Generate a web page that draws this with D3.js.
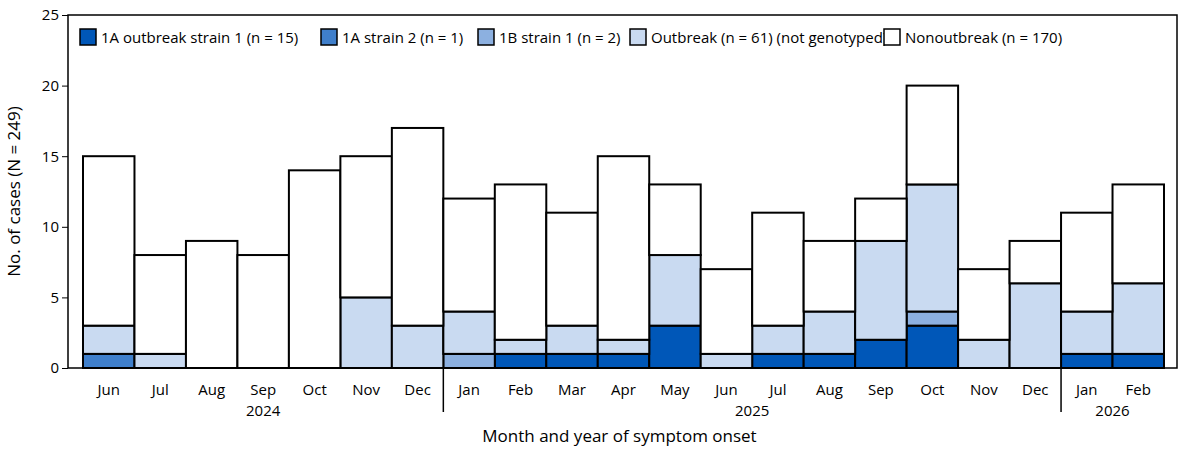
<!DOCTYPE html><html><head><meta charset="utf-8"><script src="https://cdn.jsdelivr.net/npm/d3@7"></script>
<style>body{margin:0;background:#fff}text{font-family:"Open Sans","Liberation Sans",sans-serif}</style></head><body><svg id="c" width="1200" height="463"></svg><script>
const months=["Jun","Jul","Aug","Sep","Oct","Nov","Dec","Jan","Feb","Mar","Apr","May","Jun","Jul","Aug","Sep","Oct","Nov","Dec","Jan","Feb"];
const years=[{label:"2024",from:0,to:6},{label:"2025",from:7,to:18},{label:"2026",from:19,to:20}];
const strain1A1=[0,0,0,0,0,0,0,0,1,1,1,3,0,1,1,2,3,0,0,1,1];
const strain1A2=[1,0,0,0,0,0,0,0,0,0,0,0,0,0,0,0,0,0,0,0,0];
const strain1B1=[0,0,0,0,0,0,0,1,0,0,0,0,0,0,0,0,1,0,0,0,0];
const outbreak=[2,1,0,0,0,5,3,3,1,2,1,5,1,2,3,7,9,2,6,3,5];
const nonoutbreak=[12,7,9,8,14,10,14,8,11,8,13,5,6,8,5,3,7,5,3,7,7];
const seriesNames=["1A outbreak strain 1 (n = 15)","1A strain 2 (n = 1)","1B strain 1 (n = 2)","Outbreak (n = 61) (not genotyped)","Nonoutbreak (n = 170)"];
const colors=["#0057b8","#3f7fcb","#8cb0e0","#c9daf1","#ffffff"];
const yTicks=[0,5,10,15,20,25];
const series=[strain1A1,strain1A2,strain1B1,outbreak,nonoutbreak];
const svg=d3.select("#c");
const L=68,R=1177,T=15,B=368;
const x=d3.scaleBand().domain(d3.range(months.length)).range([83,1164]).padding(0);
const y=d3.scaleLinear().domain([0,25]).range([B,T]);
const data=months.map((m,i)=>{const o={i};series.forEach((s,k)=>o["s"+k]=s[i]);return o;});
const stack=d3.stack().keys(series.map((s,k)=>"s"+k))(data);
stack.forEach((layer,k)=>{svg.append("g").selectAll("rect").data(layer.filter(d=>d[1]>d[0])).join("rect")
 .attr("x",d=>x(d.data.i)).attr("width",x.bandwidth()).attr("y",d=>y(d[1])).attr("height",d=>y(d[0])-y(d[1]))
 .attr("fill",colors[k]).attr("stroke","#000").attr("stroke-width",2);});
svg.append("rect").attr("x",L).attr("y",T).attr("width",R-L).attr("height",B-T).attr("fill","none").attr("stroke","#000").attr("stroke-width",1.5);
const ya=svg.append("g").attr("transform",`translate(${L},0)`).call(d3.axisLeft(y).tickValues(yTicks).tickSize(6));
ya.select(".domain").remove();ya.selectAll("text").attr("font-size",15).attr("fill","#000");
svg.append("g").selectAll("text").data(months).join("text").attr("x",(d,i)=>x(i)+x.bandwidth()/2).attr("y",395)
 .attr("text-anchor","middle").attr("font-size",15).text(d=>d);
svg.append("g").selectAll("text").data(years).join("text").attr("x",d=>(x(d.from)+x(d.to)+x.bandwidth())/2).attr("y",416)
 .attr("text-anchor","middle").attr("font-size",15).text(d=>d.label);
[7,19].forEach(i=>svg.append("line").attr("x1",x(i)).attr("x2",x(i)).attr("y1",B).attr("y2",412).attr("stroke","#000").attr("stroke-width",1.5));
svg.append("text").attr("x",(L+R)/2-3).attr("y",442).attr("text-anchor","middle").attr("font-size",17).text("Month and year of symptom onset");
svg.append("text").attr("transform",`translate(20,${(T+B)/2}) rotate(-90)`).attr("text-anchor","middle").attr("font-size",17).text("No. of cases (N = 249)");
const lx=[80,321,478,630,884];
seriesNames.forEach((n,k)=>{const g=svg.append("g").attr("transform",`translate(${lx[k]},29)`);
 g.append("rect").attr("width",16).attr("height",16).attr("fill",colors[k]).attr("stroke","#000").attr("stroke-width",1.5);
 g.append("text").attr("x",21).attr("y",14).attr("font-size",15).text(n);});
</script></body></html>
